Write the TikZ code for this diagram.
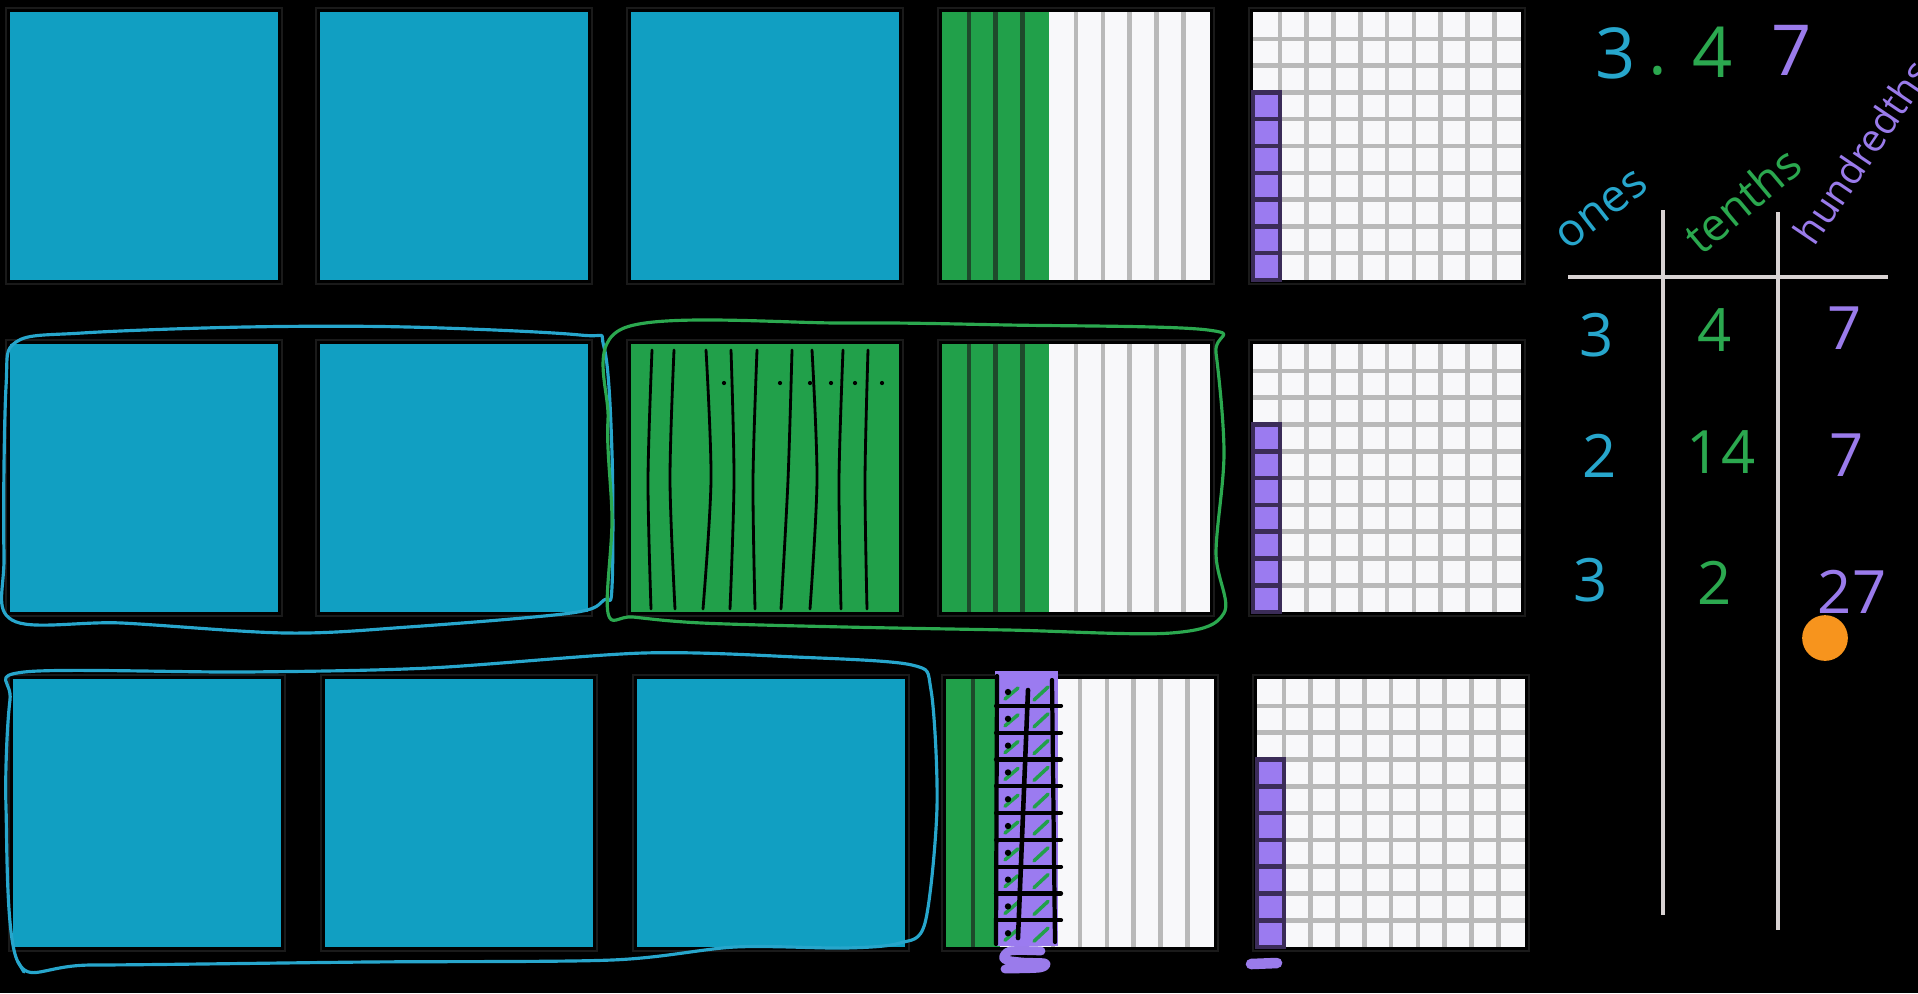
\documentclass[tikz,border=0pt]{standalone}
\usepackage{fontspec}
\setmainfont{Open Sans}
\definecolor{onesblue}{HTML}{119FC2}
\definecolor{tenthgreen}{HTML}{21A04A}
\definecolor{hundpurple}{HTML}{9B7BF0}
\definecolor{sheet}{HTML}{F8F8FA}
\definecolor{gridgray}{HTML}{B9B9B9}
\definecolor{darksep}{HTML}{1E4A2B}
\definecolor{purpsep}{HTML}{3B2C58}
\definecolor{penblue}{HTML}{27A6CC}
\definecolor{pengreen}{HTML}{2BA84F}
\definecolor{penpurple}{HTML}{9A7BEB}
\definecolor{chalk}{HTML}{D9D3D3}
\definecolor{dotorange}{HTML}{F7941D}
\definecolor{framegray}{HTML}{1A1A1A}

\newcommand{\flatblock}[3]{%
  \draw[blockframe] (#1-4,#2-4) rectangle ++(276,276);
  \fill[#3] (#1,#2) rectangle ++(268,268);
}
\newcommand{\tenthsblock}[3]{%
  \draw[blockframe] (#1-4,#2-4) rectangle ++(276,276);
  \fill[sheet] (#1,#2) rectangle ++(268,268);
  \fill[tenthgreen] (#1,#2) rectangle ++(#3*26.8,268);
  \foreach \k in {1,...,9}{
    \ifnum\k<#3
      \draw[greensep] (#1+\k*26.8,#2) -- ++(0,268);
    \else\ifnum\k>#3
      \draw[graysep] (#1+\k*26.8,#2) -- ++(0,268);
    \fi\fi
  }
}
\newcommand{\hundblock}[3]{%
  \draw[blockframe] (#1-4,#2-4) rectangle ++(276,276);
  \fill[sheet] (#1,#2) rectangle ++(268,268);
  \foreach \k in {1,...,9}{
    \draw[graysep] (#1+\k*26.8,#2) -- ++(0,268);
    \draw[graysep] (#1,#2+\k*26.8) -- ++(268,0);
  }
  \fill[hundpurple] (#1,#2+268-#3*26.8) rectangle (#1+26.8,#2+268);
  \foreach \k in {1,...,#3}
    \draw[cellsep] (#1,#2+268-\k*26.8) -- ++(26.8,0);
  \draw[cellsep] (#1,#2+268-#3*26.8) rectangle (#1+26.8,#2+268);
}

\begin{document}
\begin{tikzpicture}[
  x=0.01cm, y=-0.01cm,
  blockframe/.style={draw=framegray, line width=0.6pt},
  greensep/.style={draw=darksep, line width=1.3pt},
  graysep/.style={draw=gridgray, line width=1.3pt},
  cellsep/.style={draw=purpsep, line width=1.3pt},
  pen/.style={line width=0.9pt, line cap=round, line join=round},
  ink/.style={pen, draw=black, line width=0.8pt},
  chalkline/.style={draw=chalk, line width=1.2pt},
  bigdigit/.style={font=\fontsize{20}{24}\selectfont, inner sep=0pt},
  digit/.style={font=\fontsize{17}{20}\selectfont, inner sep=0pt},
  colhead/.style={font=\fontsize{13}{15}\selectfont, inner sep=0pt}
]
\fill[black] (0,0) rectangle (1918,993);
\useasboundingbox (0,0) rectangle (1918,993);

% first row: 3.47
\flatblock{10}{12}{onesblue}
\flatblock{320}{12}{onesblue}
\flatblock{631}{12}{onesblue}
\tenthsblock{942}{12}{4}
\hundblock{1253}{12}{7}

% second row: one whole split into tenths
\flatblock{10}{344}{onesblue}
\flatblock{320}{344}{onesblue}
\flatblock{631}{344}{tenthgreen}
\tenthsblock{942}{344}{4}
\hundblock{1253}{344}{7}
\foreach \a/\b/\c in {652/648/651, 674/670/675, 706/711/703, 731/734/730,
  757/753/755, 792/788/781, 812/817/810, 843/839/841, 868/865/867}
  \draw[ink] plot[smooth] coordinates {(\a,350) (\b,480) (\c,609)};
\foreach \a in {724,780,810,831,855,882}
  \fill (\a,383) circle[radius=0.6pt];

% third row: two tenths split into hundredths
\flatblock{13}{679}{onesblue}
\flatblock{325}{679}{onesblue}
\flatblock{637}{679}{onesblue}
\tenthsblock{946}{679}{2}
\hundblock{1257}{679}{7}
\fill[hundpurple] (995,671) rectangle (1058,946);
\foreach \k in {0,...,9}{
  \draw[pen, tenthgreen, line width=1pt] (1005,679+\k*26.8+20) -- (1018,679+\k*26.8+9);
  \draw[pen, tenthgreen, line width=1pt] (1034,679+\k*26.8+21) -- (1048,679+\k*26.8+8);
  \fill (1008,679+\k*26.8+13) circle[radius=0.9pt];
}
\foreach \k in {1,...,9}
  \draw[ink, line width=1.2pt] (996,679+\k*26.8) -- (1061,679+\k*26.8);
\draw[ink, line width=1.2pt] (997,676) -- (996,944);
\draw[ink, line width=1.3pt] (1028,690) -- (1018,938);
\draw[ink, line width=1.2pt] (1052,680) -- (1055,942);
\draw[pen, penpurple, line width=2.5pt] plot[smooth] coordinates
  {(1041,951) (1010,951) (1004,959) (1022,962) (1045,963) (1040,968) (1005,969)};
\draw[pen, penpurple, line width=3pt] (1251,964) -- (1277,963);

% regrouping loops
\draw[pen, penblue] plot[smooth cycle, tension=0.55] coordinates {
  (16,342) (82,333) (245,327) (408,327) (580,335) (604,347) (612,453)
  (612,587) (604,600) (571,613) (408,627) (286,633) (122,623) (12,620)
  (4,553) (6,387)};
\draw[pen, pengreen] plot[smooth cycle, tension=0.55] coordinates {
  (624,328) (845,323) (1008,325) (1208,330) (1216,353) (1224,453)
  (1216,553) (1224,613) (1171,633) (1008,630) (845,627) (702,623)
  (633,617) (608,613) (612,520) (608,420)};
\draw[pen, penblue] plot[smooth cycle, tension=0.5] coordinates {
  (24,672) (245,672) (429,668) (643,653) (796,657) (912,665) (931,690)
  (937,807) (925,923) (900,943) (845,948) (735,947) (612,960) (367,962)
  (92,965) (18,962) (6,807) (10,700)};
\draw[pen, penblue] (18,962) -- (24,972);

% the number and the place value table
\node[bigdigit, text=penblue] (topones) at (1616,53) {3};
\node[bigdigit, text=pengreen] (toppoint) at (1658,71) {.};
\node[bigdigit, text=pengreen] (toptenths) at (1713,52) {4};
\node[bigdigit, text=penpurple] (tophund) at (1792,50) {7};

\node[colhead, text=penblue, rotate=38] (oneshead) at (1602,210) {ones};
\node[colhead, text=pengreen, rotate=40] (tenthshead) at (1742,200) {tenths};
\node[colhead, text=penpurple, rotate=56, font=\fontsize{11}{13}\selectfont]
  (hundhead) at (1862,152) {hundredths};

\coordinate (rowL) at (1568,277);
\coordinate (rowR) at (1888,277);
\coordinate (colAtop) at (1663,210);
\coordinate (colAbot) at (1663,915);
\coordinate (colBtop) at (1778,212);
\coordinate (colBbot) at (1778,930);
\draw[chalkline] (rowL) -- (rowR);
\draw[chalkline] (colAtop) -- (colAbot);
\draw[chalkline] (colBtop) -- (colBbot);

\node[digit, text=penblue] (onesA) at (1597,335) {3};
\node[digit, text=pengreen] (tenthsA) at (1715,330) {4};
\node[digit, text=penpurple] (hundA) at (1845,328) {7};
\node[digit, text=penblue] (onesB) at (1600,456) {2};
\node[digit, text=pengreen] (tenthsB) at (1721,452) {14};
\node[digit, text=penpurple] (hundB) at (1847,455) {7};
\node[digit, text=penblue] (onesC) at (1591,580) {3};
\node[digit, text=pengreen] (tenthsC) at (1715,583) {2};
\node[digit, text=penpurple] (hundC) at (1852,592) {27};
\fill[dotorange] (1825,638) circle[radius=6.5pt];
\end{tikzpicture}
\end{document}
